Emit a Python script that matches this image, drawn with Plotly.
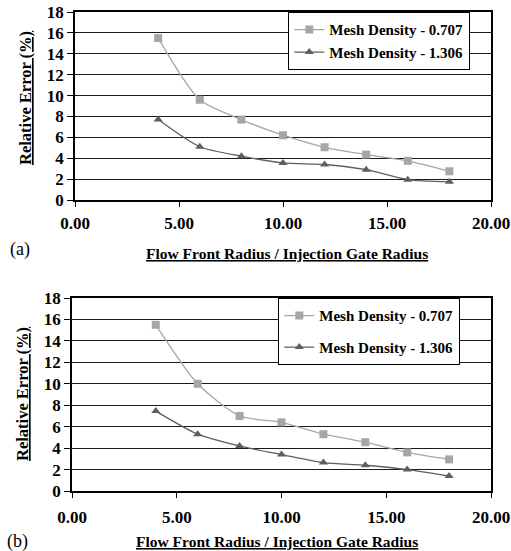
import plotly.graph_objects as go

x_vals = [4, 6, 8, 10, 12, 14, 16, 18]
a_0707 = [15.5, 9.6, 7.7, 6.2, 5.05, 4.35, 3.75, 2.75]
a_1306 = [7.7, 5.1, 4.2, 3.55, 3.4, 2.9, 1.95, 1.75]
b_0707 = [15.5, 10.0, 7.0, 6.4, 5.3, 4.55, 3.6, 2.95]
b_1306 = [7.45, 5.3, 4.2, 3.4, 2.65, 2.4, 2.0, 1.4]
names = ["Mesh Density - 0.707", "Mesh Density - 1.306"]
x_ticks = [0, 5, 10, 15, 20]
y_ticks = list(range(0, 19, 2))

W, H = 511, 551
FONT = "Liberation Serif"
light, dark = "#a6a6a6", "#5e5e5e"

fig = go.Figure()

def add_series(xa, ya, ys, name, color, sym, legend, group):
    fig.add_trace(go.Scatter(
        x=x_vals, y=ys, name=name, xaxis=xa, yaxis=ya, legend=legend,
        legendgroup=group,
        mode="lines+markers", line=dict(color=color, width=1.3, shape="spline", smoothing=0.7),
        marker=dict(symbol=sym, size=8, color=color),
    ))

add_series("x", "y", a_0707, names[0], light, "square", "legend", "a1")
add_series("x", "y", a_1306, names[1], dark, "triangle-up", "legend", "a2")
add_series("x2", "y2", b_0707, names[0], light, "square", "legend2", "b1")
add_series("x2", "y2", b_1306, names[1], dark, "triangle-up", "legend2", "b2")

def px(v): return v / W
def py(v): return 1 - v / H

tickf = dict(family=FONT, size=17, color="black", weight="bold")
ax_common = dict(range=[0, 20], tickvals=x_ticks, tickformat=".2f", ticks="outside",
                 ticklen=5, tickcolor="black", tickwidth=1.3, showline=True, mirror=True,
                 linecolor="black", linewidth=1.5, showgrid=False, zeroline=False,
                 automargin=False, ticklabeloverflow="allow", tickfont=tickf)
ay_common = dict(range=[0, 18], tickvals=y_ticks, ticks="outside", ticklen=6,
                 tickcolor="black", tickwidth=1.3, showline=True, mirror=True,
                 linecolor="black", linewidth=1.5, showgrid=True, gridcolor="#1a1a1a",
                 gridwidth=1.4, zeroline=False, automargin=False,
                 ticklabeloverflow="allow", tickfont=tickf)

legfont = dict(family=FONT, size=15, color="black", weight="bold")
fig.update_layout(
    width=W, height=H, margin=dict(l=0, r=0, t=0, b=0, autoexpand=False),
    paper_bgcolor="white", plot_bgcolor="white",
    font=dict(family=FONT, color="black"),
    xaxis=dict(domain=[px(75), px(491)], anchor="y", ticklabelstandoff=2, **ax_common),
    yaxis=dict(domain=[py(200), py(12)], anchor="x", **ay_common),
    xaxis2=dict(domain=[px(72), px(491)], anchor="y2", ticklabelstandoff=5, **ax_common),
    yaxis2=dict(domain=[py(491), py(298)], anchor="x2", **ay_common),
    legend=dict(x=px(288), y=py(12), xanchor="left", yanchor="top",
                bgcolor="white", bordercolor="black", borderwidth=1.3,
                font=legfont, tracegroupgap=0, itemwidth=30),
    legend2=dict(x=px(278), y=py(298), xanchor="left", yanchor="top",
                 bgcolor="white", bordercolor="black", borderwidth=1.3,
                 font=legfont, tracegroupgap=9, itemwidth=30),
    showlegend=True,
)

def note(text, x, y, size, angle=0):
    return dict(text=text, x=px(x), y=py(y), xref="paper", yref="paper",
                xanchor="center", yanchor="middle", textangle=angle,
                showarrow=False, font=dict(family=FONT, size=size))

xt = "<b><u>Flow Front Radius / Injection Gate Radius</u></b>"
yt = "<b><u>Relative Error (%)</u></b>"
ann = [
    note(xt, 287, 253, 15.5),
    note(xt, 277, 541, 15.5),
    note(yt, 25, 98, 16.5, -90),
    note(yt, 22, 394, 16.5, -90),
    note("(a)", 20, 249, 18),
    note("(b)", 17, 541, 18),
]
fig.update_layout(annotations=ann)

fig.write_html("out.html", config={"displayModeBar": False},
               post_script="document.body.style.margin='0';document.body.style.overflow='hidden';")
